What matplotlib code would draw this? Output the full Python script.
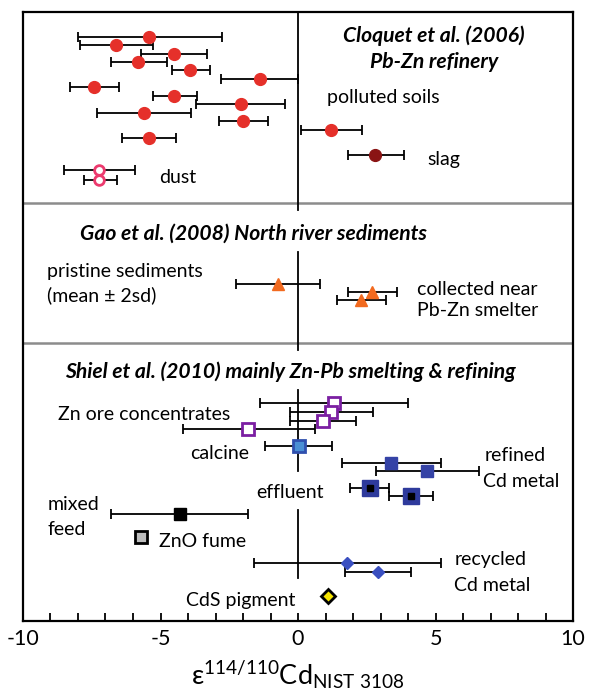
import numpy as np
import matplotlib
matplotlib.use("Agg")
import matplotlib.pyplot as plt
from matplotlib.ticker import MultipleLocator

plt.rcParams['font.family'] = ['Lato', 'DejaVu Sans']

# ---------------- data (x = eps value, lo/hi = error bar ends, y = row position) ----------------
# Cloquet et al. (2006): polluted soils
soil_x = [-5.43, -6.61, -4.50, -5.81, -3.91, -1.38, -7.40, -4.50, -2.09, -5.60, -2.01, 1.19, -5.43]
soil_lo = [-8.00, -7.92, -5.70, -6.80, -4.60, -2.79, -8.30, -5.29, -3.71, -7.31, -2.89, 0.11, -6.40]
soil_hi = [-2.78, -5.29, -3.30, -4.77, -3.19, 0.00, -6.50, -3.69, -0.48, -3.90, -1.09, 2.31, -4.42]
soil_y = [37.1, 45.5, 53.9, 62.3, 70.6, 79.4, 87.7, 96.1, 104.5, 112.9, 121.2, 130.0, 138.0]
slag_x = [2.80]; slag_lo = [1.82]; slag_hi = [3.84]; slag_y = [155.0]
dust_x = [-7.24, -7.24]; dust_lo = [-8.51, -7.78]; dust_hi = [-5.91, -6.59]; dust_y = [170.5, 179.9]

# Gao et al. (2008): river sediments
prist_x = [-0.74]; prist_lo = [-2.26]; prist_hi = [0.79]; prist_y = [283.9]
near_x = [2.68, 2.30]; near_lo = [1.82, 1.41]; near_hi = [3.60, 3.19]; near_y = [292.3, 300.0]

# Shiel et al. (2010)
ore_x = [1.31, 1.20, 0.89, -1.81]; ore_lo = [-1.40, -0.30, -0.30, -4.20]
ore_hi = [4.01, 2.71, 2.12, 0.62]; ore_y = [402.8, 412.2, 421.2, 428.9]
calc_x = [0.04]; calc_lo = [-1.19]; calc_hi = [1.22]; calc_y = [445.7]
ref_x = [3.39, 4.69]; ref_lo = [1.61, 2.82]; ref_hi = [5.21, 6.58]; ref_y = [463.2, 471.5]
eff_x = [2.60, 4.10]; eff_lo = [1.89, 3.32]; eff_hi = [3.30, 4.92]; eff_y = [488.3, 496.0]
mix_x = [-4.30]; mix_lo = [-6.80]; mix_hi = [-1.81]; mix_y = [513.8]
zno_x = [-5.70]; zno_y = [537.4]
rec_x = [1.79, 2.91]; rec_lo = [-1.60, 1.70]; rec_hi = [5.21, 4.12]; rec_y = [562.6, 572.0]
cds_x = [1.09]; cds_y = [596.2]

fig = plt.figure(figsize=(5.89, 6.93), dpi=100)
ax = fig.add_axes([0.039, 0.104, 0.934, 0.879])
ax.set_xlim(-10, 10)
ax.set_ylim(621, 12)


def ebar(x, lo, hi, y, **kw):
    x = np.array(x)
    err = [x - np.array(lo), np.array(hi) - x]
    ax.errorbar(x, y, xerr=err, fmt='none', ecolor='black', elinewidth=1.3,
                capsize=3.5, capthick=1.3, zorder=2)
    ax.plot(x, y, linestyle='none', zorder=3, **kw)


# separators and zero lines
for ys in [203, 343]:
    ax.axhline(ys, color='#8c8c8c', lw=1.8, zorder=1)
ax.plot([0, 0], [12, 210], color='black', lw=1.3, zorder=1)
ax.plot([0, 0], [252, 350], color='black', lw=1.3, zorder=1)
ax.plot([0, 0], [390, 471], color='black', lw=1.3, zorder=1)
ax.plot([0, 0], [510, 578], color='black', lw=1.3, zorder=1)

# top panel
ebar(soil_x, soil_lo, soil_hi, soil_y, marker='o', ms=8.5, color='#e5302a', mec='#e5302a')
ebar(slag_x, slag_lo, slag_hi, slag_y, marker='o', ms=8.5, color='#8a1414', mec='#8a1414')
ebar(dust_x, dust_lo, dust_hi, dust_y, marker='o', ms=7, mfc='white', mec='#ec3a6e', mew=2)

# middle panel
ebar(prist_x, prist_lo, prist_hi, prist_y, marker='^', ms=9, color='#f26a1f', mec='#f26a1f')
ebar(near_x, near_lo, near_hi, near_y, marker='^', ms=9, color='#f26a1f', mec='#f26a1f')

# bottom panel
ebar(ore_x, ore_lo, ore_hi, ore_y, marker='s', ms=8, mfc='white', mec='#7b1fa2', mew=2)
ebar(calc_x, calc_lo, calc_hi, calc_y, marker='s', ms=9, mfc='#4a8fd4', mec='#2f4fae', mew=2)
ebar(ref_x, ref_lo, ref_hi, ref_y, marker='s', ms=9, color='#3543a6', mec='#3543a6')
ebar(eff_x, eff_lo, eff_hi, eff_y, marker='s', ms=11, color='#2e3a9c', mec='#2e3a9c')
ax.plot(eff_x, eff_y, 's', ms=4, color='black', zorder=4)
ebar(mix_x, mix_lo, mix_hi, mix_y, marker='s', ms=8, color='black')
ax.plot(zno_x, zno_y, 's', ms=8, mfc='#bdbdbd', mec='black', mew=2, zorder=3)
ebar(rec_x, rec_lo, rec_hi, rec_y, marker='D', ms=6.5, color='#3a4fc0', mec='#3a4fc0')
ax.plot(cds_x, cds_y, 'D', ms=7, mfc='#f5e400', mec='black', mew=2, zorder=3)

# labels
fs = 14
bi = dict(fontsize=15.2, fontweight='bold', fontstyle='italic')
ax.text(4.93, 35.5, 'Cloquet et al. (2006)', ha='center', va='center', **bi)
ax.text(4.93, 62.3, 'Pb-Zn refinery', ha='center', va='center', **bi)
ax.text(1.07, 97.5, 'polluted soils', fontsize=fs, va='center')
ax.text(4.69, 159.5, 'slag', fontsize=fs, va='center')
ax.text(-5.05, 178.0, 'dust', fontsize=fs, va='center')

ax.text(-7.92, 233.5, 'Gao et al. (2008) North river sediments', va='center', **bi)
ax.text(-9.12, 272.0, 'pristine sediments', fontsize=fs, va='center')
ax.text(-9.12, 295.6, '(mean ± 2sd)', fontsize=fs, va='center')
ax.text(4.31, 290.0, 'collected near', fontsize=fs, va='center')
ax.text(4.31, 311.0, 'Pb-Zn smelter', fontsize=fs, va='center')

ax.text(-8.47, 371.9, 'Shiel et al. (2010) mainly Zn-Pb smelting & refining', va='center', **bi)
ax.text(-8.71, 414.5, 'Zn ore concentrates', fontsize=fs, va='center')
ax.text(-3.93, 454.0, 'calcine', fontsize=fs, va='center')
ax.text(6.77, 455.8, 'refined', fontsize=fs, va='center')
ax.text(6.74, 481.6, 'Cd metal', fontsize=fs, va='center')
ax.text(-1.53, 492.7, 'effluent', fontsize=fs, va='center')
ax.text(-9.12, 504.4, 'mixed', fontsize=fs, va='center')
ax.text(-9.12, 530.0, 'feed', fontsize=fs, va='center')
ax.text(-5.05, 541.8, 'ZnO fume', fontsize=fs, va='center')
ax.text(5.68, 560.0, 'recycled', fontsize=fs, va='center')
ax.text(5.68, 585.4, 'Cd metal', fontsize=fs, va='center')
ax.text(-4.06, 600.5, 'CdS pigment', fontsize=fs, va='center')

# axes styling
for s in ax.spines.values():
    s.set_linewidth(1.6)
ax.set_yticks([])
ax.xaxis.set_major_locator(MultipleLocator(5))
ax.xaxis.set_minor_locator(MultipleLocator(1))
ax.tick_params(axis='x', which='both', direction='in', length=6, width=1.3,
               labelsize=15.5, pad=6)
ax.set_xticks([-10, -5, 0, 5, 10])
ax.set_xticklabels(['-10', '-5', '0', '5', '10'])
ax.set_xlabel(r'$\mathregular{\varepsilon^{114/110}Cd_{NIST\ 3108}}$', fontsize=19.5, labelpad=7)

fig.savefig('out.png', dpi=100)
